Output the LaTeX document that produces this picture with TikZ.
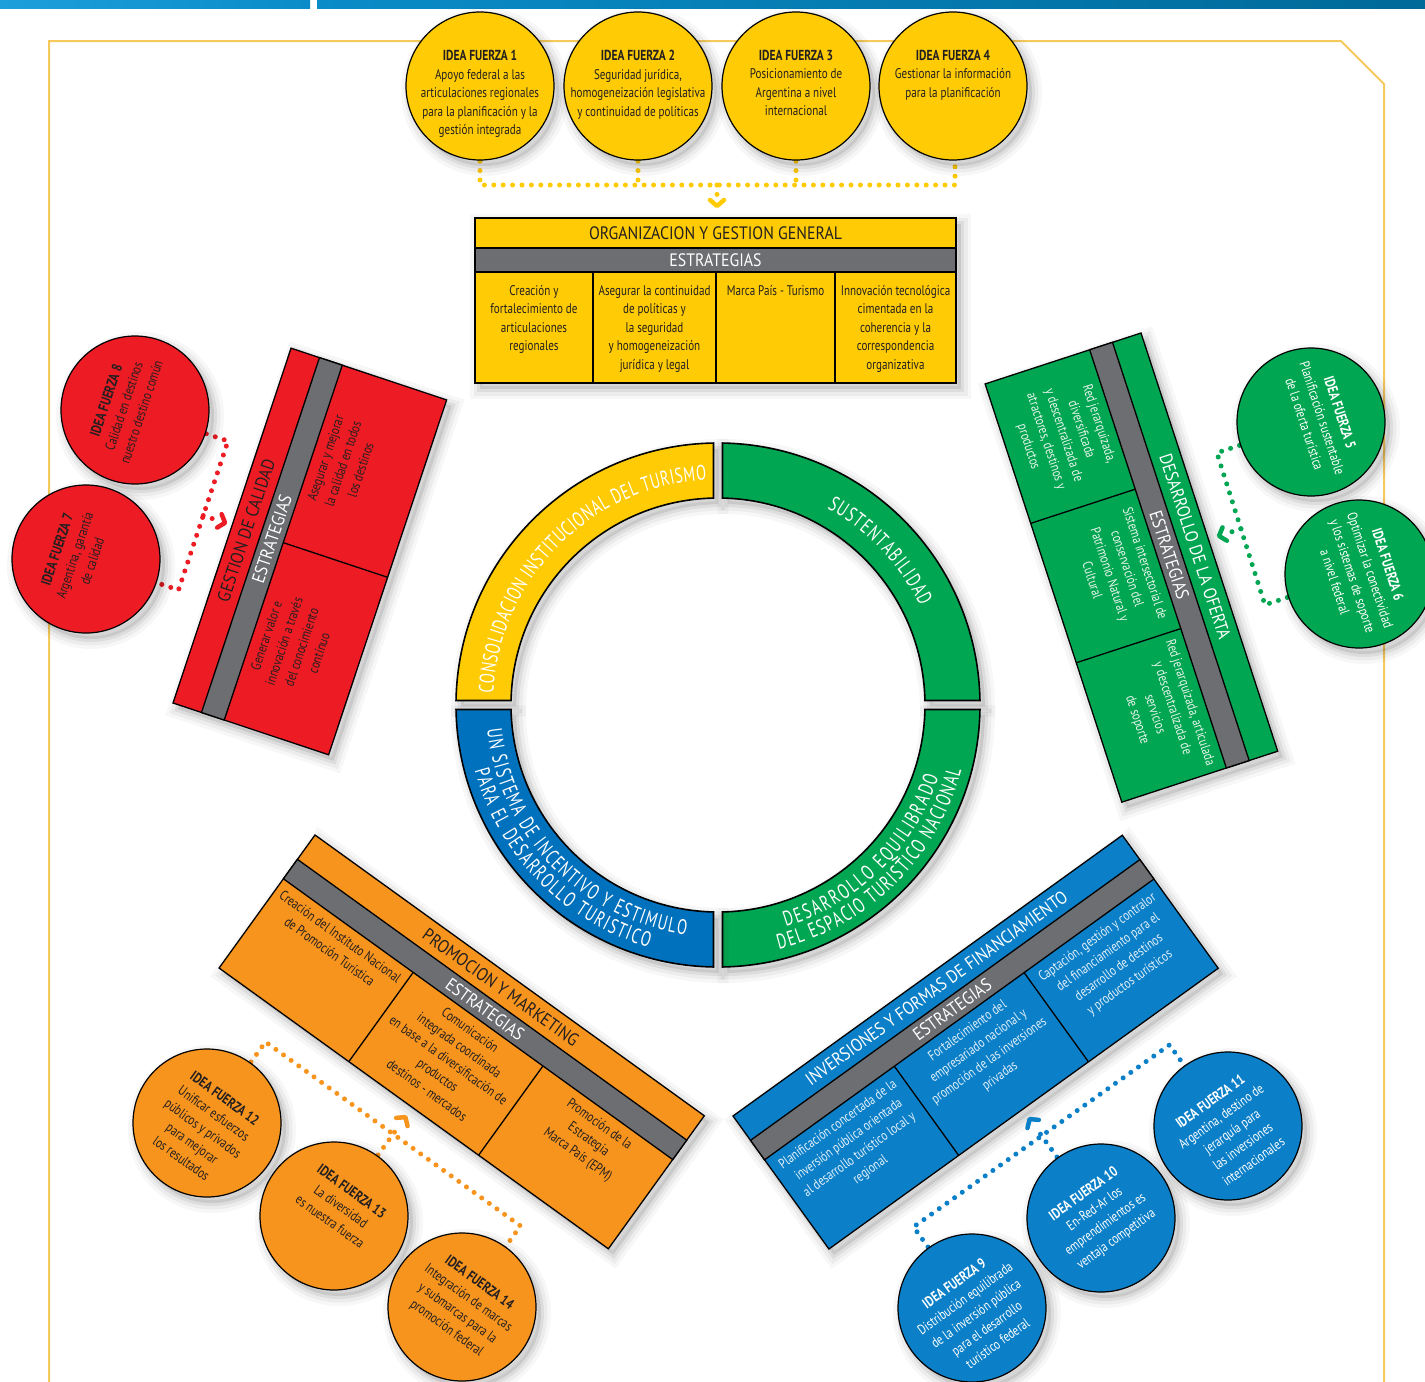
\documentclass[tikz,border=0pt]{standalone}
\usepackage{fontspec}
\setmainfont{PT Sans}[FakeStretch=0.79]
\newfontfamily\ttlfont{PT Sans}[FakeStretch=0.88]
\newfontfamily\ringfam{PT Sans}[FakeStretch=0.70]
\usetikzlibrary{calc,decorations.text}

\definecolor{fyellow}{HTML}{FFCB05}
\definecolor{fgreen}{HTML}{00A651}
\definecolor{fred}{HTML}{ED1C24}
\definecolor{forange}{HTML}{F7941D}
\definecolor{fblue}{HTML}{0B80C8}
\definecolor{ringblue}{HTML}{0071BC}
\definecolor{fgray}{HTML}{6D6E71}
\definecolor{framec}{HTML}{F6C95C}
\definecolor{ink}{HTML}{231F20}
\definecolor{paleg}{HTML}{E8F5EC}
\definecolor{paleb}{HTML}{E3F0FA}
\definecolor{barA}{HTML}{1C9FDA}
\definecolor{barB}{HTML}{0A8CC8}
\definecolor{barC}{HTML}{006A99}

\newcommand\ringfont{\ringfam\fontsize{21}{21}\selectfont\color{white}}
\newcommand\chevat[4]{\draw[chevron,#4,shift={(#1,#2)},rotate=#3] (-6,7) -- (0,0) -- (-6,-7);}

\tikzset{
  softshadow/.style={
    preaction={fill=black, draw=none, fill opacity=0.09, transform canvas={shift={(5pt,-6pt)}}},
    preaction={fill=none, draw=black, draw opacity=0.06, line width=6pt, transform canvas={shift={(5pt,-6pt)}}},
    preaction={fill=none, draw=black, draw opacity=0.045, line width=13pt, transform canvas={shift={(5pt,-6pt)}}},
    preaction={fill=none, draw=black, draw opacity=0.03, line width=20pt, transform canvas={shift={(5pt,-6pt)}}}
  },
  idea/.style={circle, draw=black, line width=1.2pt, minimum size=148pt, inner sep=0pt, softshadow},
  ideatext/.style={anchor=north, align=center, inner sep=0pt, font=\fontsize{14}{18.5}\selectfont},
  dots/.style={line width=5pt, line cap=round, dash pattern=on 0pt off 9.4pt},
  chevron/.style={line width=4.5pt, line cap=round, line join=round},
  boxline/.style={draw=black, line width=1.3pt},
  cell/.style={anchor=north, align=center, inner sep=0pt, font=\fontsize{14}{18.5}\selectfont},
  btitle/.style={inner sep=0pt, font=\ttlfont\fontsize{18}{18}\selectfont},
  ringseg/.style={draw=black, line width=1.6pt, softshadow},
  ringtext/.style={decorate, decoration={text along path, text align={fit to path}, text={|\ringfont|#1}}},
}
\newcommand\hdr[1]{{\fontsize{14.5}{18.5}\selectfont\bfseries #1}}

\begin{document}
\begin{tikzpicture}[x=1pt,y=1pt]
\useasboundingbox (0,0) rectangle (1425,-1382);
\clip (0,0) rectangle (1425,-1382);
\fill[white] (0,0) rectangle (1425,-1382);

% top bars and frame
\shade[left color=barA, right color=barB] (0,0) rectangle (310,-8);
\shade[left color=barB, right color=barC] (317,0) rectangle (1425,-8);
\draw[framec, line width=2pt] (49,-1382) -- (49,-41) -- (1341,-41) -- (1384,-84) -- (1384,-1382);

% ---------------- ring ----------------
\coordinate (C) at (718,-705);
\draw[ringseg, fill=fyellow] ([shift={(90.98:262)}]C) arc[start angle=90.98, end angle=179.02, radius=262pt]
  -- ([shift={(178.75:207)}]C) arc[start angle=178.75, end angle=91.25, radius=207pt] -- cycle;
\draw[ringseg, fill=fgreen] ([shift={(89.02:262)}]C) arc[start angle=89.02, end angle=0.98, radius=262pt]
  -- ([shift={(1.25:207)}]C) arc[start angle=1.25, end angle=88.75, radius=207pt] -- cycle;
\draw[ringseg, fill=fgreen] ([shift={(-0.98:262)}]C) arc[start angle=-0.98, end angle=-89.02, radius=262pt]
  -- ([shift={(-88.75:207)}]C) arc[start angle=-88.75, end angle=-1.25, radius=207pt] -- cycle;
\draw[ringseg, fill=ringblue] ([shift={(180.98:262)}]C) arc[start angle=180.98, end angle=269.02, radius=262pt]
  -- ([shift={(268.75:207)}]C) arc[start angle=268.75, end angle=181.25, radius=207pt] -- cycle;

\path[ringtext={CONSOLIDACION INSTITUCIONAL DEL TURISMO}]
  ([shift={(177:225)}]C) arc[start angle=177, end angle=93, radius=225pt];
\path[ringtext={SUSTENTABILIDAD}]
  ([shift={(61:225)}]C) arc[start angle=61, end angle=26, radius=225pt];
\path[ringtext={DESARROLLO EQUILIBRADO}]
  ([shift={(287:232)}]C) arc[start angle=287, end angle=342, radius=232pt];
\path[ringtext={DEL ESPACIO TURISTICO NACIONAL}]
  ([shift={(284:252)}]C) arc[start angle=284, end angle=345, radius=252pt];
\path[ringtext={UN SISTEMA DE INCENTIVO Y ESTIMULO}]
  ([shift={(186:232)}]C) arc[start angle=186, end angle=262, radius=232pt];
\path[ringtext={PARA EL DESARROLLO TURISTICO}]
  ([shift={(195:252)}]C) arc[start angle=195, end angle=254, radius=252pt];

% ---------------- top box ----------------
\draw[boxline, fill=fyellow, softshadow] (475,-218) rectangle (956,-383);
\draw[boxline, fill=fgray] (475,-248) rectangle (956,-272);
\draw[boxline] (593,-272) -- (593,-383) (716,-272) -- (716,-383) (835,-272) -- (835,-383);
\node[btitle, text=ink] (topT) at (715.5,-233) {ORGANIZACION Y GESTION GENERAL};
\node[btitle, text=white] (topS) at (715.5,-260) {ESTRATEGIAS};
\node[cell, text=ink] (topA) at (534,-285) {Creación y\\fortalecimiento de\\articulaciones\\regionales};
\node[cell, text=ink] (topB) at (654.5,-285) {Asegurar la continuidad\\de políticas y\\la seguridad\\y homogeneización\\jurídica y legal};
\node[cell, text=ink] (topC) at (775.5,-285) {Marca País - Turismo};
\node[cell, text=ink] (topD) at (895.5,-285) {Innovación tecnológica\\cimentada en la\\coherencia y la\\correspondencia\\organizativa};

% ---------------- shadows of rotated boxes ----------------
\path[softshadow] (173,-703) -- (291.2,-348.1) -- (446.8,-400) -- (328.6,-754.8) -- cycle;
\path[softshadow] (1141,-333) -- (1277.8,-751.4) -- (1121.8,-802.4) -- (985,-384) -- cycle;
\path[softshadow] (733,-1116) -- (1122.3,-835.2) -- (1218.2,-968.2) -- (828.9,-1249) -- cycle;
\path[softshadow] (315,-835) -- (704.3,-1115.8) -- (608.4,-1248.8) -- (219.1,-968) -- cycle;

% ---------------- red box ----------------
\begin{scope}[shift={(173,-703)}, rotate=71.6, transform shape]
\draw[boxline, fill=fred] (0,0) rectangle (374,-164);
\draw[boxline, fill=fgray] (0,-30) rectangle (374,-54);
\draw[boxline] (187,-54) -- (187,-164);
\node[btitle, text=ink] (redT) at (187,-15) {GESTION DE CALIDAD};
\node[btitle, text=white] (redS) at (187,-42) {ESTRATEGIAS};
\node[cell, text=ink] (redA) at (93.5,-62) {Generar valor e\\innovación a través\\del conocimiento\\contínuo};
\node[cell, text=ink] (redB) at (280.5,-62) {Asegurar y mejorar\\la calidad en todos\\los destinos};
\end{scope}

% ---------------- green box ----------------
\begin{scope}[shift={(1141,-333)}, rotate=-71.9, transform shape]
\draw[boxline, fill=fgreen] (0,0) rectangle (440,-164);
\draw[boxline, fill=fgray] (0,-30) rectangle (440,-54);
\draw[boxline] (146.67,-54) -- (146.67,-164) (293.33,-54) -- (293.33,-164);
\node[btitle, text=white] (grnT) at (220,-15) {DESARROLLO DE LA OFERTA};
\node[btitle, text=white] (grnS) at (220,-42) {ESTRATEGIAS};
\node[cell, text=paleg] (grnA) at (73.3,-62) {Red jerarquizada,\\diversificada\\y descentralizada de\\atractores, destinos y\\productos};
\node[cell, text=paleg] (grnB) at (220,-62) {Sistema intersectorial de\\conservación del\\Patrimonio Natural y\\Cultural};
\node[cell, text=paleg] (grnC) at (366.7,-62) {Red jerarquizada, articulada\\y descentralizada de\\servicios\\de soporte};
\end{scope}

% ---------------- blue box ----------------
\begin{scope}[shift={(733,-1116)}, rotate=35.8, transform shape]
\draw[boxline, fill=fblue] (0,0) rectangle (480,-164);
\draw[boxline, fill=fgray] (0,-30) rectangle (480,-54);
\draw[boxline] (160,-54) -- (160,-164) (320,-54) -- (320,-164);
\node[btitle, text=white] (bluT) at (240,-15) {INVERSIONES Y FORMAS DE FINANCIAMIENTO};
\node[btitle, text=white] (bluS) at (240,-42) {ESTRATEGIAS};
\node[cell, text=paleb] (bluA) at (80,-62) {Planificación concertada de la\\inversión pública orientada\\al desarrollo turístico local y\\regional};
\node[cell, text=paleb] (bluB) at (240,-62) {Fortalecimiento del\\empresariado nacional y\\promoción de las inversiones\\privadas};
\node[cell, text=paleb] (bluC) at (400,-62) {Captación, gestión y contralor\\del financiamiento para el\\desarrollo de destinos\\y productos turísticos};
\end{scope}

% ---------------- orange box ----------------
\begin{scope}[shift={(315,-835)}, rotate=-35.8, transform shape]
\draw[boxline, fill=forange] (0,0) rectangle (480,-164);
\draw[boxline, fill=fgray] (0,-30) rectangle (480,-54);
\draw[boxline] (160,-54) -- (160,-164) (320,-54) -- (320,-164);
\node[btitle, text=ink] (orgT) at (240,-15) {PROMOCION Y MARKETING};
\node[btitle, text=white] (orgS) at (240,-42) {ESTRATEGIAS};
\node[cell, text=ink] (orgA) at (80,-62) {Creación del Instituto Nacional\\de Promoción Turística};
\node[cell, text=ink] (orgB) at (240,-62) {Comunicación\\integrada coordinada\\en base a la diversificación de\\productos\\destinos - mercados};
\node[cell, text=ink] (orgC) at (400,-62) {Promoción de la\\Estrategia\\Marca País (EPM)};
\end{scope}

% ---------------- circle positions ----------------
\coordinate (p1) at (480,-86);   \coordinate (p2) at (638,-86);
\coordinate (p3) at (796,-86);   \coordinate (p4) at (953,-86);
\coordinate (p5) at (1311,-422); \coordinate (p6) at (1359,-574);
\coordinate (p7) at (86,-559);   \coordinate (p8) at (135,-410);
\coordinate (p9) at (972,-1308); \coordinate (p10) at (1101,-1218);
\coordinate (p11) at (1228,-1126);
\coordinate (p12) at (207,-1123); \coordinate (p13) at (334,-1216);
\coordinate (p14) at (462,-1307);

% ---------------- dotted connectors ----------------
% yellow
\coordinate (ya1) at (480,-185); \coordinate (ya2) at (638,-185);
\coordinate (ya3) at (796,-185); \coordinate (ya4) at (955,-185);
\coordinate (yb4) at (955,-150);
\coordinate (yam) at (717,-185); \coordinate (yas) at (717,-196);
\draw[dots, fyellow] (p1) -- (ya1) -- (ya4) -- (yb4);
\draw[dots, fyellow] (p2) -- (ya2);
\draw[dots, fyellow] (p3) -- (ya3);
\draw[dots, fyellow] (yam) -- (yas);
\chevat{717}{-206}{-90}{fyellow}
% red
\coordinate (r8) at (228,-441); \coordinate (r7) at (178.5,-590);
\coordinate (rm) at (203.25,-515.5); \coordinate (rs) at (212.7,-518.7);
\draw[dots, fred] (p8) -- (r8) -- (r7) -- (p7);
\draw[dots, fred] (rm) -- (rs);
\chevat{225.1}{-522.8}{-18.4}{fred}
% green
\coordinate (g5) at (1216.9,-452.8); \coordinate (g6) at (1264.9,-604.8);
\coordinate (gm) at (1240.9,-528.8); \coordinate (gs) at (1231.4,-531.9);
\draw[dots, fgreen] (p5) -- (g5) -- (g6) -- (p6);
\draw[dots, fgreen] (gm) -- (gs);
\chevat{1219.0}{-535.9}{198.1}{fgreen}
% blue
\coordinate (b9) at (913.5,-1226.9); \coordinate (b11) at (1169.5,-1044.9);
\coordinate (bs) at (1036.6,-1128.8);
\draw[dots, fblue] (p9) -- (b9) -- (b11) -- (p11);
\draw[dots, fblue] (p10) -- (bs);
\chevat{1029.6}{-1119.1}{125.8}{fblue}
% orange
\coordinate (o12) at (265.5,-1041.9); \coordinate (o14) at (520.5,-1225.9);
\coordinate (os) at (398.4,-1126.8);
\draw[dots, forange] (p12) -- (o12) -- (o14) -- (p14);
\draw[dots, forange] (p13) -- (os);
\chevat{405.4}{-1117.1}{54.2}{forange}

% ---------------- circles ----------------
\node[idea, fill=fyellow] (c1) at (p1) {};
\node[idea, fill=fyellow] (c2) at (p2) {};
\node[idea, fill=fyellow] (c3) at (p3) {};
\node[idea, fill=fyellow] (c4) at (p4) {};
\node[idea, fill=fgreen] (c5) at (p5) {};
\node[idea, fill=fgreen] (c6) at (p6) {};
\node[idea, fill=fred] (c8) at (p8) {};
\node[idea, fill=fred] (c7) at (p7) {};
\node[idea, fill=fblue] (c9) at (p9) {};
\node[idea, fill=fblue] (c10) at (p10) {};
\node[idea, fill=fblue] (c11) at (p11) {};
\node[idea, fill=forange] (c12) at (p12) {};
\node[idea, fill=forange] (c13) at (p13) {};
\node[idea, fill=forange] (c14) at (p14) {};

\node[ideatext, text=ink] (t1) at ($(c1)+(90:36)$) {\hdr{IDEA FUERZA 1}\\Apoyo federal a las\\articulaciones regionales\\para la planificación y la\\gestión integrada};
\node[ideatext, text=ink] (t2) at ($(c2)+(90:36)$) {\hdr{IDEA FUERZA 2}\\Seguridad jurídica,\\homogeneización legislativa\\y continuidad de políticas};
\node[ideatext, text=ink] (t3) at ($(c3)+(90:36)$) {\hdr{IDEA FUERZA 3}\\Posicionamiento de\\Argentina a nivel\\internacional};
\node[ideatext, text=ink] (t4) at ($(c4)+(90:36)$) {\hdr{IDEA FUERZA 4}\\Gestionar la información\\para la planificación};

\node[ideatext, text=white, rotate=-71.9] (t5) at ($(c5)+(18.1:36)$) {\hdr{IDEA FUERZA 5}\\Planificación sustentable\\de la oferta turística};
\node[ideatext, text=white, rotate=-71.9] (t6) at ($(c6)+(18.1:36)$) {\hdr{IDEA FUERZA 6}\\Optimizar la conectividad\\y los sistemas de soporte\\a nivel federal};

\node[ideatext, text=ink, rotate=71.6] (t8) at ($(c8)+(161.6:36)$) {\hdr{IDEA FUERZA 8}\\Calidad en destinos\\nuestro destino común};
\node[ideatext, text=ink, rotate=71.6] (t7) at ($(c7)+(161.6:36)$) {\hdr{IDEA FUERZA 7}\\Argentina, garantía\\de calidad};

\node[ideatext, text=white, rotate=35.8] (t9) at ($(c9)+(125.8:36)$) {\hdr{IDEA FUERZA 9}\\Distribución equilibrada\\de la inversión pública\\para el desarrollo\\turístico federal};
\node[ideatext, text=white, rotate=35.8] (t10) at ($(c10)+(125.8:36)$) {\hdr{IDEA FUERZA 10}\\En-Red-Ar los\\emprendimientos es\\ventaja competitiva};
\node[ideatext, text=white, rotate=35.8] (t11) at ($(c11)+(125.8:36)$) {\hdr{IDEA FUERZA 11}\\Argentina, destino de\\jerarquía para\\las inversiones\\internacionales};

\node[ideatext, text=ink, rotate=-35.8] (t12) at ($(c12)+(54.2:36)$) {\hdr{IDEA FUERZA 12}\\Unificar esfuerzos\\públicos y privados\\para mejorar\\los resultados};
\node[ideatext, text=ink, rotate=-35.8] (t13) at ($(c13)+(54.2:36)$) {\hdr{IDEA FUERZA 13}\\La diversidad\\es nuestra fuerza};
\node[ideatext, text=ink, rotate=-35.8] (t14) at ($(c14)+(54.2:36)$) {\hdr{IDEA FUERZA 14}\\Integración de marcas\\y submarcas para la\\promoción federal};

\end{tikzpicture}
\end{document}
